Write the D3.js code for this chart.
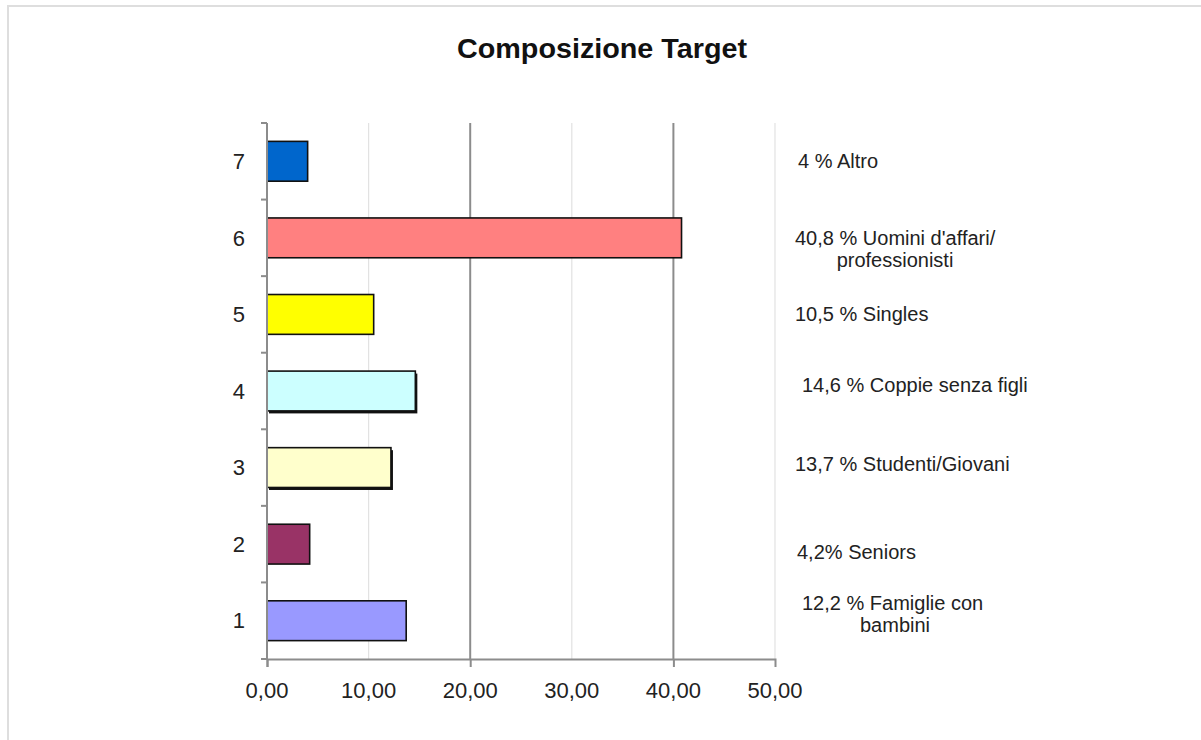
<!DOCTYPE html>
<html>
  <head>
    <meta charset="utf-8">
    <title>Composizione Target</title>
    <script src="https://d3js.org/d3.v7.min.js"></script>
    <style>
      html, body { margin: 0; padding: 0; background: #fff; }
      svg { display: block; font-family: "Liberation Sans", Arial, sans-serif; }
    </style>
  </head>
  <body>
    <div id="chart"></div>
    <script>
      // data (bar lengths as drawn, labels as written)
      const categories = ["1", "2", "3", "4", "5", "6", "7"];
      const values = [13.7, 4.2, 12.2, 14.6, 10.5, 40.8, 4.0];
      const labels = [
        ["12,2 % Famiglie con", "bambini"],
        ["4,2% Seniors"],
        ["13,7 % Studenti/Giovani"],
        ["14,6 % Coppie senza figli"],
        ["10,5 % Singles"],
        ["40,8 % Uomini d'affari/", "professionisti"],
        ["4 % Altro"]
      ];
      const colors = ["#9999ff", "#993366", "#ffffcc", "#ccffff", "#ffff00", "#ff8080", "#0066cc"];
      const xTicks = [0, 10, 20, 30, 40, 50];
      const majorTicks = [0, 20, 40];

      const width = 1201, height = 740;
      const plot = { left: 267, right: 775, top: 123, bottom: 659 };

      const svg = d3.select("#chart").append("svg")
        .attr("width", width)
        .attr("height", height);

      // outer frame
      svg.append("path")
        .attr("d", "M8," + height + "V6H" + width)
        .attr("fill", "none")
        .attr("stroke", "#dedede")
        .attr("stroke-width", 2);

      // title
      svg.append("text")
        .attr("x", 602)
        .attr("y", 58)
        .attr("text-anchor", "middle")
        .attr("font-size", 28)
        .attr("font-weight", "bold")
        .attr("fill", "#111")
        .attr("textLength", 290)
        .attr("lengthAdjust", "spacingAndGlyphs")
        .text("Composizione Target");

      const x = d3.scaleLinear().domain([0, 50]).range([plot.left, plot.right]);
      const y = d3.scaleBand().domain(categories.slice().reverse())
        .range([plot.top, plot.bottom])
        .paddingInner(0.48)
        .paddingOuter(0.24);
      const yStep = d3.scaleBand().domain(categories.slice().reverse())
        .range([plot.top, plot.bottom]);

      // gridlines
      svg.append("g")
        .selectAll("line")
        .data(xTicks.filter(t => t > 0))
        .join("line")
          .attr("x1", d => x(d)).attr("x2", d => x(d))
          .attr("y1", plot.top).attr("y2", plot.bottom)
          .attr("stroke", d => majorTicks.includes(d) ? "#8c8c8c" : "#e2e2e2")
          .attr("stroke-width", d => majorTicks.includes(d) ? 2 : 1.2);

      // bars (3 and 4 have a heavier bottom/right edge)
      const bars = svg.append("g");
      bars.selectAll(".shadow")
        .data(categories.filter((d, i) => i === 2 || i === 3))
        .join("rect")
          .attr("class", "shadow")
          .attr("x", x(0) + 2)
          .attr("y", d => y(d) + 2.5)
          .attr("width", d => x(values[categories.indexOf(d)]) - x(0))
          .attr("height", y.bandwidth())
          .attr("fill", "#111");
      bars.selectAll(".bar")
        .data(categories)
        .join("rect")
          .attr("class", "bar")
          .attr("x", x(0))
          .attr("y", d => y(d))
          .attr("width", (d, i) => x(values[i]) - x(0))
          .attr("height", y.bandwidth())
          .attr("fill", (d, i) => colors[i])
          .attr("stroke", "#111")
          .attr("stroke-width", 1.6);

      // y axis with ticks at the category boundaries
      const yAxis = svg.append("g");
      yAxis.append("line")
        .attr("x1", plot.left).attr("x2", plot.left)
        .attr("y1", plot.top).attr("y2", plot.bottom)
        .attr("stroke", "#8c8c8c").attr("stroke-width", 2);
      yAxis.selectAll(".ytick")
        .data(categories.concat(["0"]))
        .join("line")
          .attr("class", "ytick")
          .attr("x1", plot.left - 6).attr("x2", plot.left)
          .attr("y1", (d, i) => plot.top + i * yStep.step())
          .attr("y2", (d, i) => plot.top + i * yStep.step())
          .attr("stroke", "#8c8c8c").attr("stroke-width", 2);
      yAxis.selectAll("text")
        .data(categories)
        .join("text")
          .attr("x", 245)
          .attr("y", d => yStep(d) + yStep.bandwidth() / 2)
          .attr("dy", "0.35em")
          .attr("text-anchor", "end")
          .attr("font-size", 22)
          .attr("fill", "#222")
          .text(d => d);

      // x axis
      const xAxis = svg.append("g")
        .attr("transform", "translate(0," + plot.bottom + ")")
        .call(d3.axisBottom(x).tickValues(majorTicks).tickSize(8).tickFormat(""));
      xAxis.select(".domain").attr("stroke", "#8c8c8c").attr("stroke-width", 2);
      xAxis.selectAll(".tick line").attr("stroke", "#8c8c8c").attr("stroke-width", 2);
      svg.append("g")
        .selectAll("text")
        .data(xTicks)
        .join("text")
          .attr("x", d => x(d))
          .attr("y", 698)
          .attr("text-anchor", "middle")
          .attr("font-size", 22)
          .attr("fill", "#222")
          .text(d => d3.format(".2f")(d).replace(".", ","));

      // category labels on the right
      const labelShift = [-18, 8, -4, -6, 0, 0, 0];
      const labelIndent = [7, 2, 0, 7, 0, 0, 3];
      const labelGroup = svg.append("g");
      categories.forEach((c, i) => {
        const cy = yStep(c) + yStep.bandwidth() / 2 + labelShift[i];
        const t = labelGroup.append("text")
          .attr("font-size", 20)
          .attr("fill", "#222")
          .attr("y", cy)
          .attr("dy", "0.35em");
        labels[i].forEach((line, j) => {
          t.append("tspan")
            .attr("x", j === 0 ? 795 + labelIndent[i] : 895)
            .attr("text-anchor", j === 0 ? "start" : "middle")
            .attr("dy", j === 0 ? "0.35em" : "1.1em")
            .text(line);
        });
      });
    </script>
  </body>
</html>
